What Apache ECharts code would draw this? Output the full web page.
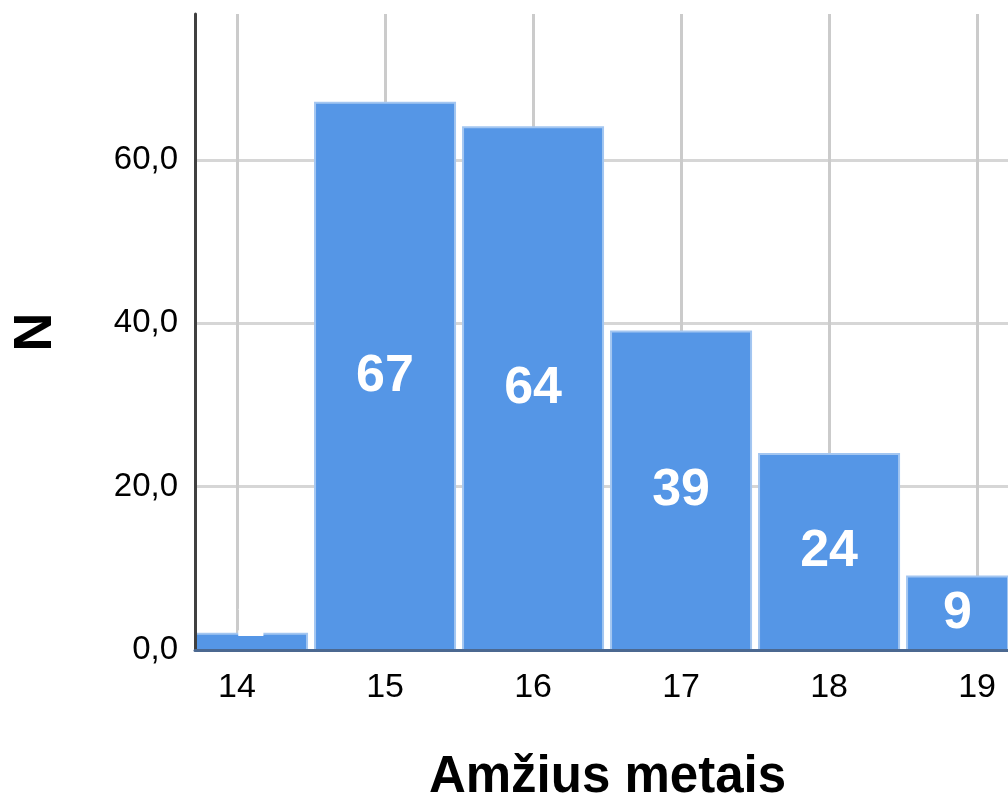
<!DOCTYPE html>
<html>
<head>
<meta charset="utf-8">
<script src="https://cdn.jsdelivr.net/npm/echarts@6/dist/echarts.min.js"></script>
<style>
  html, body { margin: 0; padding: 0; background: #ffffff; }
  #chart { width: 1008px; height: 796px; }
</style>
</head>
<body>
<div id="chart"></div>
<script>
// Age in years (bin centres) and number of respondents in each bin
const ages = [14, 15, 16, 17, 18, 19];
const counts = [2, 67, 64, 39, 24, 9];

// Tick values shown on the axes
const xTickValues = [14, 15, 16, 17, 18, 19];
const yTickValues = [0, 20, 40, 60];

const FONT = '"Liberation Sans", Arial, sans-serif';
const X_MIN = 13.716, X_MAX = 19.209;
const Y_MIN = 0, Y_MAX = 77.88;
const BIN_WIDTH = 1;   // each bin spans one year
const BAR_GAP = 8;     // white gap between neighbouring bins, px

const chart = echarts.init(document.getElementById('chart'), null, { renderer: 'canvas' });

// Histogram bin: a rectangle from (age - 0.5, 0) to (age + 0.5, n), clipped to the plot area
function renderBin(params, api) {
  const age = api.value(0);
  const n = api.value(1);
  const topLeft = api.coord([age - BIN_WIDTH / 2, n]);
  const bottomRight = api.coord([age + BIN_WIDTH / 2, 0]);
  const cs = params.coordSys;
  const shape = echarts.graphic.clipRectByRect({
    x: topLeft[0] + BAR_GAP / 2,
    y: topLeft[1],
    width: bottomRight[0] - topLeft[0] - BAR_GAP,
    height: bottomRight[1] - topLeft[1]
  }, { x: cs.x, y: cs.y, width: cs.width, height: cs.height });
  if (!shape) {
    return null;
  }
  // a bin too short to hold its count gets the label raised a little
  const tooShort = shape.height < 40;
  return {
    type: 'rect',
    shape: shape,
    style: { fill: '#5596e6', stroke: '#a3c6f1', lineWidth: 2 },
    textContent: {
      style: {
        text: String(n),
        fill: '#ffffff',
        fontFamily: FONT,
        fontSize: 52,
        fontWeight: 'bold'
      }
    },
    textConfig: { position: 'inside', offset: tooShort ? [0, -20] : [0, 0] }
  };
}

chart.setOption({
  backgroundColor: '#ffffff',
  animation: false,
  grid: { left: 195, right: 0, top: 14, bottom: 146, containLabel: false, outerBoundsMode: 'none' },
  xAxis: [{
    // main axis: labels, title and vertical grid lines (behind the bins)
    type: 'value',
    min: X_MIN,
    max: X_MAX,
    name: 'Amžius metais',
    nameLocation: 'middle',
    nameGap: 102,
    nameTextStyle: {
      fontFamily: FONT, fontSize: 51, fontWeight: 'bold', color: '#000',
      padding: [0, 0, 0, 12]
    },
    axisLine: { show: false },
    axisTick: { show: false, customValues: xTickValues },
    axisLabel: {
      customValues: xTickValues,
      margin: 21,
      fontFamily: FONT,
      fontSize: 34,
      color: '#000',
      formatter: function (v) { return String(v); }
    },
    splitLine: { show: true, lineStyle: { color: '#cbcbcb', width: 3 } }
  }, {
    // baseline drawn on top of the bins
    type: 'value',
    position: 'bottom',
    min: X_MIN,
    max: X_MAX,
    z: 5,
    axisLine: { show: true, onZero: false, lineStyle: { color: '#4b6890', width: 3 } },
    axisTick: { show: false },
    axisLabel: { show: false },
    splitLine: { show: false }
  }],
  yAxis: [{
    // horizontal grid lines (behind the bins)
    type: 'value',
    min: Y_MIN,
    max: Y_MAX,
    axisLine: { show: false },
    axisTick: { show: false, customValues: yTickValues },
    axisLabel: { show: false },
    splitLine: { show: true, lineStyle: { color: '#d6d6d6', width: 3 } }
  }, {
    // left axis line, tick labels and title, drawn on top of the bins
    type: 'value',
    position: 'left',
    min: Y_MIN,
    max: Y_MAX,
    z: 5,
    name: 'N',
    nameLocation: 'middle',
    nameGap: 132,
    nameTextStyle: { fontFamily: FONT, fontSize: 54, fontWeight: 'bold', color: '#000' },
    axisLine: { show: true, onZero: false, lineStyle: { color: '#404040', width: 3 } },
    axisTick: { show: false, customValues: yTickValues },
    axisLabel: {
      customValues: yTickValues,
      margin: 17,
      fontFamily: FONT,
      fontSize: 33,
      color: '#000',
      formatter: function (v) { return v.toFixed(1).replace('.', ','); }
    },
    splitLine: { show: false }
  }],
  series: [{
    type: 'custom',
    xAxisIndex: 0,
    yAxisIndex: 0,
    encode: { x: 0, y: 1 },
    data: ages.map(function (age, i) { return [age, counts[i]]; }),
    renderItem: renderBin,
    z: 2
  }]
});
</script>
</body>
</html>
